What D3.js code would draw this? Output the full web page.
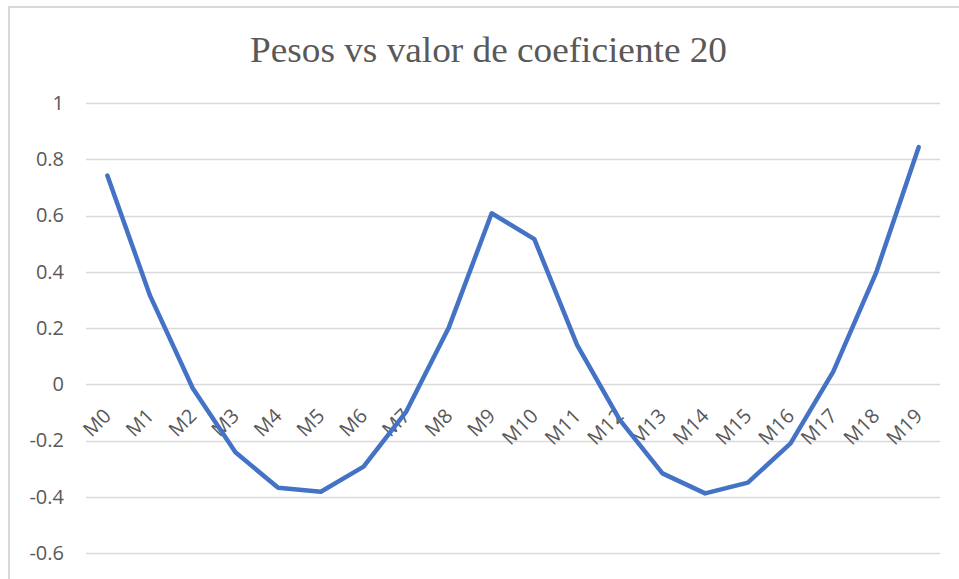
<!DOCTYPE html>
<html>
<head>
<meta charset="utf-8">
<script src="https://cdn.jsdelivr.net/npm/d3@7"></script>
<style>
  html, body { margin: 0; padding: 0; background: #fff; }
  svg { display: block; }
</style>
</head>
<body>
<svg id="chart" width="959" height="579"></svg>
<script>
// Weights per coefficient position (series "coeficiente 20")
const categories = ["M0","M1","M2","M3","M4","M5","M6","M7","M8","M9",
                    "M10","M11","M12","M13","M14","M15","M16","M17","M18","M19"];
const values = [0.742, 0.315, -0.014, -0.242, -0.368, -0.382, -0.293, -0.097, 0.203, 0.608,
                0.516, 0.140, -0.127, -0.317, -0.388, -0.350, -0.210, 0.045, 0.395, 0.843];
const yTicks = [-0.6, -0.4, -0.2, 0, 0.2, 0.4, 0.6, 0.8, 1];
const yTickLabels = ["-0.6", "-0.4", "-0.2", "0", "0.2", "0.4", "0.6", "0.8", "1"];
const title = "Pesos vs valor de coeficiente 20";

const svg = d3.select("#chart");
const W = 959, H = 579;
const plot = { left: 86, right: 940, top: 103, bottom: 553 };
const labelFont = "'Open Sans', sans-serif";

// chart area frame (left and top edges visible)
svg.append("path")
  .attr("d", `M9,${H} V7 H${W}`)
  .attr("fill", "none")
  .attr("stroke", "#d9d9d9")
  .attr("stroke-width", 2);

const x = d3.scaleBand().domain(categories).range([plot.left, plot.right]);
const y = d3.scaleLinear().domain([-0.6, 1]).range([plot.bottom, plot.top]);

// horizontal gridlines
svg.append("g")
  .selectAll("line")
  .data(yTicks)
  .join("line")
  .attr("x1", plot.left).attr("x2", plot.right)
  .attr("y1", d => Math.round(y(d)) + 0.5).attr("y2", d => Math.round(y(d)) + 0.5)
  .attr("stroke", "#d9d9d9")
  .attr("stroke-width", 1.5);

// value axis labels
const yAxis = svg.append("g")
  .attr("transform", `translate(${plot.left},0)`)
  .call(d3.axisLeft(y).tickValues(yTicks).tickSize(0).tickPadding(22)
    .tickFormat((d, i) => yTickLabels[i]));
yAxis.select(".domain").remove();
yAxis.selectAll("text")
  .attr("fill", "#595959")
  .style("font-family", labelFont)
  .style("font-size", "20px");

// category axis labels, sitting at the zero line, rotated
const xAxis = svg.append("g")
  .attr("transform", `translate(0,${y(0)})`)
  .call(d3.axisBottom(x).tickSize(0));
xAxis.select(".domain").remove();
xAxis.selectAll("text")
  .attr("y", 0).attr("dy", 0)
  .attr("text-anchor", "end")
  .attr("transform", "translate(5,33) rotate(-45)")
  .attr("fill", "#595959")
  .style("font-family", labelFont)
  .style("font-size", "20px");

// series line
const line = d3.line()
  .x((d, i) => x(categories[i]) + x.bandwidth() / 2)
  .y(d => y(d));
svg.append("path")
  .datum(values)
  .attr("d", line)
  .attr("fill", "none")
  .attr("stroke", "#4472c4")
  .attr("stroke-width", 4.5)
  .attr("stroke-linejoin", "round")
  .attr("stroke-linecap", "round");

// title
svg.append("text")
  .attr("x", 488.5)
  .attr("y", 62)
  .attr("text-anchor", "middle")
  .attr("fill", "#595959")
  .attr("textLength", 477)
  .attr("lengthAdjust", "spacingAndGlyphs")
  .style("font-family", "'Liberation Serif', 'Times New Roman', serif")
  .style("font-size", "36px")
  .text(title);
</script>
</body>
</html>
